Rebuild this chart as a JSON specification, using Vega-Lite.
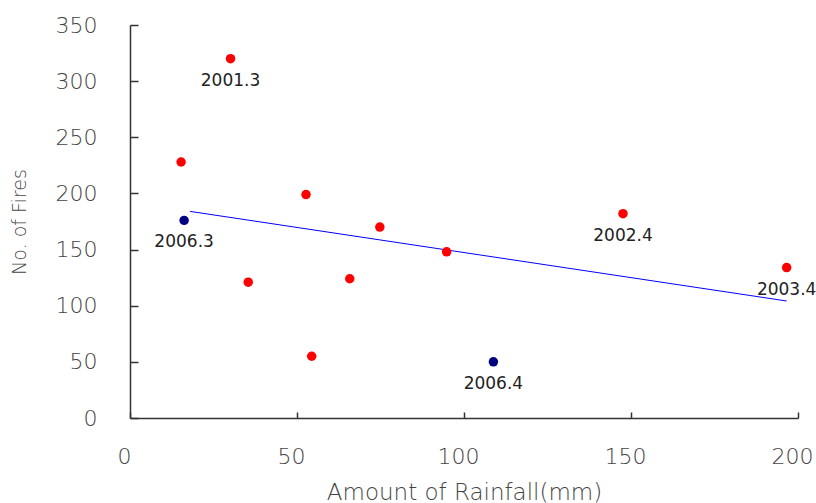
{
  "$schema": "https://vega.github.io/schema/vega-lite/v6.json",
  "autosize": {"type": "none"},
  "width": 668,
  "height": 393,
  "padding": {"left": 130, "top": 25, "right": 18, "bottom": 85},
  "background": "white",
  "datasets": {
    "fires": [
      {"rain": 15.3, "fires": 228, "year": "", "group": "other"},
      {"rain": 30.1, "fires": 320, "year": "2001.3", "group": "other"},
      {"rain": 16.2, "fires": 176, "year": "2006.3", "group": "2006"},
      {"rain": 52.7, "fires": 199, "year": "", "group": "other"},
      {"rain": 74.8, "fires": 170, "year": "", "group": "other"},
      {"rain": 35.4, "fires": 121, "year": "", "group": "other"},
      {"rain": 54.4, "fires": 55, "year": "", "group": "other"},
      {"rain": 65.8, "fires": 124, "year": "", "group": "other"},
      {"rain": 94.8, "fires": 148, "year": "", "group": "other"},
      {"rain": 108.8, "fires": 50, "year": "2006.4", "group": "2006"},
      {"rain": 147.6, "fires": 182, "year": "2002.4", "group": "other"},
      {"rain": 196.6, "fires": 134, "year": "2003.4", "group": "other"}
    ],
    "trend": [
      {"rain": 18, "fires": 184},
      {"rain": 196.6, "fires": 104.2}
    ]
  },
  "layer": [
    {
      "data": {"name": "trend"},
      "mark": {"type": "line", "color": "#0000ff", "strokeWidth": 1},
      "encoding": {
        "x": {
          "field": "rain", "type": "quantitative",
          "scale": {"domain": [0, 200], "nice": false},
          "axis": {
            "title": "Amount of Rainfall(mm)",
            "values": [0, 50, 100, 150, 200],
            "grid": false,
            "domainColor": "#333333", "domainWidth": 1.5,
            "tickColor": "#333333", "tickWidth": 1.5, "tickSize": -6,
            "labelFont": "DejaVu Sans", "labelFontSize": 22, "labelFontWeight": 200, "labelColor": "#444444",
            "labelPadding": 34, "labelOffset": -6, "labelFlush": false,
            "titleFont": "DejaVu Sans", "titleFontSize": 23, "titleFontWeight": 200,
            "titleColor": "#444444", "titlePadding": 14
          }
        },
        "y": {
          "field": "fires", "type": "quantitative",
          "scale": {"domain": [0, 350], "nice": false},
          "axis": {
            "title": "No. of Fires",
            "values": [0, 50, 100, 150, 200, 250, 300, 350],
            "grid": false,
            "domainColor": "#333333", "domainWidth": 1.5,
            "tickColor": "#333333", "tickWidth": 1.5, "tickSize": -8,
            "labelFont": "DejaVu Sans", "labelFontSize": 22, "labelFontWeight": 200, "labelColor": "#444444",
            "labelPadding": 41, "labelFlush": false,
            "titleFont": "DejaVu Sans", "titleFontSize": 19, "titleFontWeight": 200,
            "titleColor": "#444444", "titlePadding": 26
          }
        }
      }
    },
    {
      "data": {"name": "fires"},
      "mark": {"type": "circle", "size": 90, "opacity": 1},
      "encoding": {
        "x": {"field": "rain", "type": "quantitative"},
        "y": {"field": "fires", "type": "quantitative"},
        "color": {
          "field": "group", "type": "nominal",
          "scale": {"domain": ["other", "2006"], "range": ["#ff0000", "#000080"]},
          "legend": null
        }
      }
    },
    {
      "data": {"name": "fires"},
      "mark": {"type": "text", "font": "DejaVu Sans", "fontSize": 17, "color": "#222222", "dy": 22, "align": "center", "baseline": "middle"},
      "encoding": {
        "x": {"field": "rain", "type": "quantitative"},
        "y": {"field": "fires", "type": "quantitative"},
        "text": {"field": "year", "type": "nominal"}
      }
    }
  ],
  "config": {"view": {"stroke": null}}
}
